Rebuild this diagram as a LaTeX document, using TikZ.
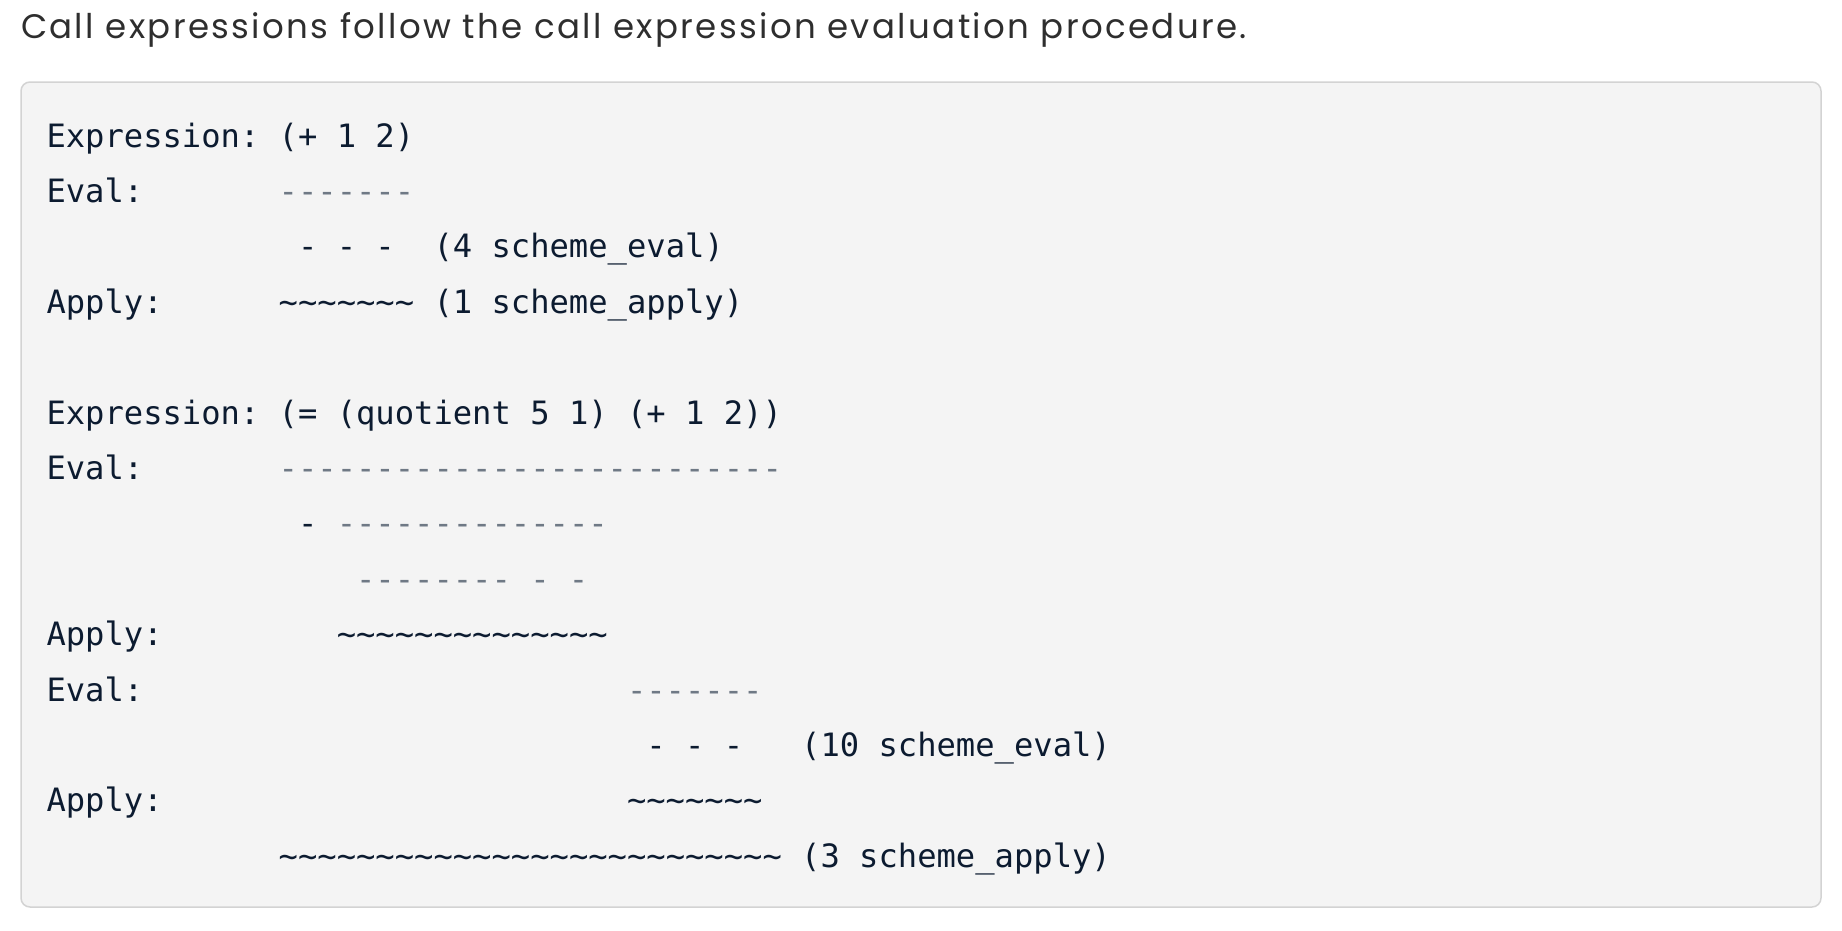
\documentclass[tikz,border=0pt]{standalone}
\usepackage{fontspec}
\setmainfont{Poppins}
\newfontfamily\titlefont[LetterSpace=7]{Poppins}
\setmonofont{DejaVu Sans Mono}
\definecolor{codefg}{HTML}{0C1B30}
\definecolor{codegray}{HTML}{6F7985}
\definecolor{boxfill}{HTML}{F4F4F4}
\definecolor{boxline}{HTML}{D3D3D3}
\definecolor{prose}{HTML}{2E2E2E}
\newcommand\cx[1]{46.5+#1*19.35}
\begin{document}
\begin{tikzpicture}[x=1pt,y=-1pt,
  code/.style={anchor=base west, inner sep=0pt, outer sep=0pt, font=\ttfamily\fontsize{32.15}{32}\selectfont, text=codefg},
  dim/.style={code, text=codegray},
  prosetext/.style={anchor=base west, inner sep=0pt, outer sep=0pt, font=\titlefont\fontsize{34}{34}\selectfont, text=prose},
  codebox/.style={draw=boxline, fill=boxfill, line width=1.5pt, rounded corners=9pt}]
\useasboundingbox (0,0) rectangle (1842,930);
\node[prosetext] (title) at (21,38) {Call expressions follow the call expression evaluation procedure.};
\draw[codebox] (21,82) rectangle (1821,907);
% block 1
\node[code] (l1a) at ({\cx{0}},147) {Expression:};
\node[code] (l1b) at ({\cx{12}},147) {(+ 1 2)};
\node[code] (l2a) at ({\cx{0}},202.4) {Eval:};
\node[dim]  (l2b) at ({\cx{12}},202.4) {-------};
\node[code] (l3a) at ({\cx{13}},257.8) {- - -};
\node[code] (l3b) at ({\cx{20}},257.8) {(4 scheme\_eval)};
\node[code] (l4a) at ({\cx{0}},313.2) {Apply:};
\node[code] (l4b) at ({\cx{12}},313.2) {\detokenize{~~~~~~~}};
\node[code] (l4c) at ({\cx{20}},313.2) {(1 scheme\_apply)};
% block 2
\node[code] (l6a) at ({\cx{0}},424) {Expression:};
\node[code] (l6b) at ({\cx{12}},424) {(= (quotient 5 1) (+ 1 2))};
\node[code] (l7a) at ({\cx{0}},479.4) {Eval:};
\node[dim]  (l7b) at ({\cx{12}},479.4) {--------------------------};
\node[code] (l8a) at ({\cx{13}},534.8) {-};
\node[dim]  (l8b) at ({\cx{15}},534.8) {--------------};
\node[dim]  (l9a) at ({\cx{16}},590.2) {--------};
\node[dim]  (l9b) at ({\cx{25}},590.2) {-};
\node[dim]  (l9c) at ({\cx{27}},590.2) {-};
\node[code] (l10a) at ({\cx{0}},645.6) {Apply:};
\node[code] (l10b) at ({\cx{15}},645.6) {\detokenize{~~~~~~~~~~~~~~}};
\node[code] (l11a) at ({\cx{0}},701) {Eval:};
\node[dim]  (l11b) at ({\cx{30}},701) {-------};
\node[code] (l12a) at ({\cx{31}},756.4) {- - -};
\node[code] (l12b) at ({\cx{39}},756.4) {(10 scheme\_eval)};
\node[code] (l13a) at ({\cx{0}},811.8) {Apply:};
\node[code] (l13b) at ({\cx{30}},811.8) {\detokenize{~~~~~~~}};
\node[code] (l14a) at ({\cx{12}},867.2) {\detokenize{~~~~~~~~~~~~~~~~~~~~~~~~~~}};
\node[code] (l14b) at ({\cx{39}},867.2) {(3 scheme\_apply)};
\end{tikzpicture}
\end{document}
